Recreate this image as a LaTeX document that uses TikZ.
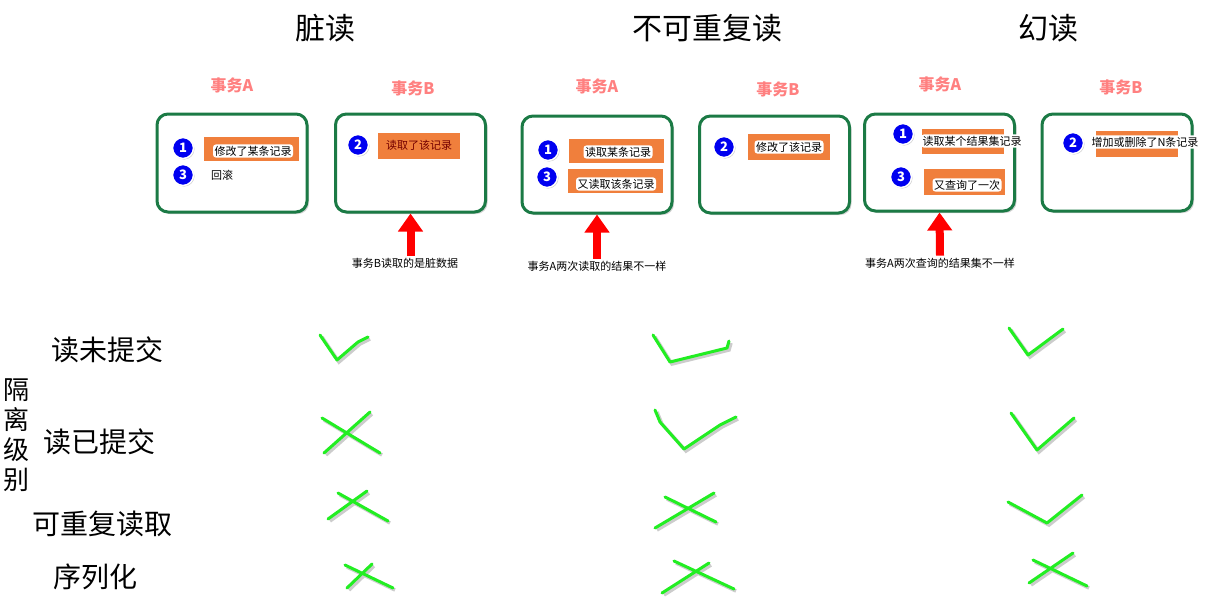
\documentclass[tikz,border=0pt]{standalone}
\usepackage{fontspec}
\setmainfont{Noto Sans CJK SC}
\usepackage{tikz}
\usetikzlibrary{arrows.meta, positioning, shadows}
\definecolor{boxgreen}{HTML}{1B7A45}
\definecolor{oporange}{HTML}{F07F3C}
\definecolor{translabel}{HTML}{FF8080}
\definecolor{numblue}{HTML}{0000F0}
\definecolor{okgreen}{HTML}{22EE22}

\tikzset{
  title/.style={font=\fontsize{30}{32}\selectfont},
  trans/.style={text=translabel, font=\fontsize{16}{18}\selectfont\bfseries},
  txbox/.style={draw=boxgreen, line width=3pt, rounded corners=11pt, fill=white,
    drop shadow={shadow xshift=2pt, shadow yshift=-2pt, opacity=.35}},
  opbar/.style={fill=oporange},
  optext/.style={fill=white, rounded corners=3pt, inner sep=1.5pt, font=\fontsize{11}{13}\selectfont},
  stepnum/.style={circle, fill=numblue, draw=white, line width=1.5pt, text=white,
    font=\fontsize{13}{13}\selectfont\bfseries, inner sep=0pt, minimum size=21pt,
    drop shadow={shadow xshift=1pt, shadow yshift=-1pt, opacity=.4}},
  note/.style={font=\fontsize{11}{13}\selectfont, fill=white, inner sep=2pt},
  uparrow/.style={draw=red, line width=8pt, -{Triangle[width=24pt,length=18pt]}},
  level/.style={font=\fontsize{28}{30}\selectfont},
  okstroke/.style={draw=okgreen, line width=3pt, line cap=round, line join=round,
    preaction={draw=black, opacity=.2, line width=3.5pt, transform canvas={shift={(2pt,-2pt)}}}}
}

\begin{document}
\begin{tikzpicture}[x=1pt, y=-1pt]
    \useasboundingbox (0,0) rectangle (1215,600);

    % Column titles
    \node[title] (tDirty) at (325,28) {脏读};
    \node[title] (tNonRep) at (707,28) {不可重复读};
    \node[title] (tPhantom) at (1048,28) {幻读};

    % Transaction labels
    \node[trans] (lA1) at (232,85) {事务A};
    \node[trans] (lB1) at (413,88) {事务B};
    \node[trans] (lA2) at (597,86) {事务A};
    \node[trans] (lB2) at (778,89) {事务B};
    \node[trans] (lA3) at (940,84) {事务A};
    \node[trans] (lB3) at (1121,87) {事务B};

    % Transaction boxes
    \node[txbox, minimum width=150pt, minimum height=98pt] (boxA1) at (232,163) {};
    \node[txbox, minimum width=150pt, minimum height=98pt] (boxB1) at (410.5,163) {};
    \node[txbox, minimum width=150pt, minimum height=97pt] (boxA2) at (597,164.5) {};
    \node[txbox, minimum width=150pt, minimum height=97pt] (boxB2) at (774.5,164.5) {};
    \node[txbox, minimum width=150pt, minimum height=97pt] (boxA3) at (939.5,162.5) {};
    \node[txbox, minimum width=150pt, minimum height=97pt] (boxB3) at (1117,162.5) {};

    % Dirty read
    \fill[opbar] (204,137) rectangle (299,161);
    \node[stepnum] (sA1a) at (183,148) {1};
    \node[optext] (oA1a) at (253,151) {修改了某条记录};
    \node[stepnum] (sA1b) at (183,175) {3};
    \node[optext] (oA1b) at (222,175) {回滚};
    \fill[opbar] (378,133) rectangle (460,159);
    \node[stepnum] (sB1) at (358,145) {2};
    \node[optext, fill=none, text=red!45!black] (oB1) at (419,145) {读取了该记录};

    % Non-repeatable read
    \fill[opbar] (569,139) rectangle (664,163);
    \fill[opbar] (568,169) rectangle (663,193);
    \node[stepnum] (sA2a) at (548,150) {1};
    \node[optext] (oA2a) at (618,152) {读取某条记录};
    \node[stepnum] (sA2b) at (547,177) {3};
    \node[optext] (oA2b) at (616,184) {又读取该条记录};
    \fill[opbar] (748,134) rectangle (830,160);
    \node[stepnum] (sB2) at (724,147) {2};
    \node[optext] (oB2) at (789,147) {修改了该记录};

    % Phantom read
    \fill[opbar] (922,129) rectangle (1004,154);
    \fill[opbar] (924,169) rectangle (1005,195);
    \node[stepnum] (sA3a) at (903,134) {1};
    \node[optext] (oA3a) at (972,141) {读取某个结果集记录};
    \node[stepnum] (sA3b) at (901,177) {3};
    \node[optext] (oA3b) at (967,185) {又查询了一次};
    \fill[opbar] (1096,131) rectangle (1178,157);
    \node[stepnum] (sB3) at (1073,143) {2};
    \node[optext] (oB3) at (1145,142) {增加或删除了N条记录};

    % Notes and arrows
    \node[note] (nDirty) at (405,263) {事务B读取的是脏数据};
    \node[note] (nNonRep) at (597,266) {事务A两次读取的结果不一样};
    \node[note] (nPhantom) at (940,263) {事务A两次查询的结果集不一样};
    \draw[uparrow] (nDirty.north -| boxB1.south) -- (boxB1.south);
    \draw[uparrow] (nNonRep.north) -- (boxA2.south);
    \draw[uparrow] (nPhantom.north) -- (boxA3.south);

    % Isolation levels
    \node[level, align=center, font=\fontsize{26}{30}\selectfont] (iso) at (17,435) {隔\\离\\级\\别};
    \node[level] (lvRU) at (107,350) {读未提交};
    \node[level] (lvRC) at (99,442) {读已提交};
    \node[level] (lvRR) at (102,524) {可重复读取};
    \node[level] (lvSer) at (95,577) {序列化};

    % Dirty read marks
    \draw[okstroke] (320,335) -- (337,360) -- (358,342) -- (368,337);
    \draw[okstroke] (322,418) -- (380,453) (324,453) -- (370,412);
    \draw[okstroke] (338,493) -- (388,521) (328,519) -- (367,491);
    \draw[okstroke] (345,565) -- (393,588) (347,588) -- (372,564);

    % Non-repeatable read marks
    \draw[okstroke] (653,335) -- (670,362) -- (727,348) -- (729,341);
    \draw[okstroke] (655,410) -- (660,422) -- (684,449) -- (720,425) -- (736,417);
    \draw[okstroke] (665,497) -- (716,522) (655,528) -- (714,493);
    \draw[okstroke] (674,561) -- (734,589) (662,593) -- (709,563);

    % Phantom read marks
    \draw[okstroke] (1009,328) -- (1028,355) -- (1063,329);
    \draw[okstroke] (1011,413) -- (1037,450) -- (1074,418);
    \draw[okstroke] (1008,502) -- (1047,523) -- (1082,495);
    \draw[okstroke] (1033,560) -- (1087,586) (1029,583) -- (1073,553);
\end{tikzpicture}
\end{document}
